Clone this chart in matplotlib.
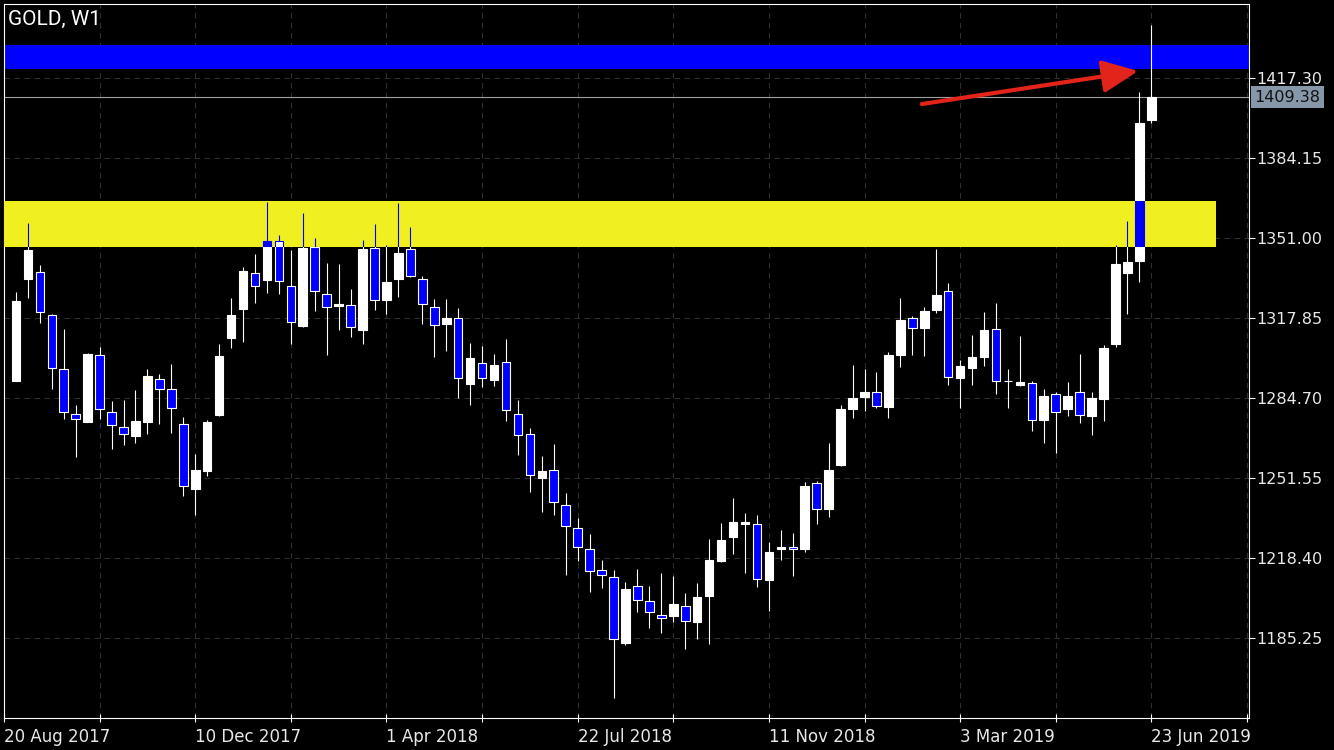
import numpy as np
import pandas as pd
import matplotlib
matplotlib.use("Agg")
import matplotlib.pyplot as plt
from matplotlib.patches import Rectangle

plt.rcParams['font.family'] = ['DejaVu Sans']

# GOLD weekly bars, first bar = week of 27 Aug 2017 (index 1, 20 Aug 2017 = 0)
opens = [1291.9, 1334.1, 1336.8, 1319.0, 1296.6, 1277.9, 1274.9, 1302.5, 1278.9, 1272.7,
         1269.1, 1274.9, 1292.5, 1288.3, 1273.8, 1247.1, 1254.6, 1277.7, 1309.7, 1321.7,
         1336.4, 1333.7, 1349.8, 1331.2, 1314.5, 1347.1, 1327.7, 1323.0, 1323.1, 1313.0,
         1346.7, 1325.4, 1334.1, 1346.3, 1333.9, 1322.3, 1315.2, 1317.7, 1290.6, 1299.1,
         1292.3, 1299.5, 1277.9, 1269.7, 1251.7, 1254.7, 1240.2, 1230.7, 1222.0, 1213.4,
         1210.4, 1183.3, 1206.7, 1200.6, 1194.7, 1194.5, 1198.4, 1192.0, 1202.8, 1217.2,
         1227.2, 1232.6, 1232.4, 1209.4, 1222.0, 1222.8, 1222.3, 1249.4, 1238.7, 1256.9,
         1280.1, 1285.2, 1287.1, 1281.1, 1302.5, 1317.7, 1313.7, 1321.2, 1328.9, 1293.1,
         1297.3, 1301.8, 1313.2, 1291.9, 1290.2, 1290.8, 1275.6, 1286.4, 1280.1, 1287.2,
         1277.2, 1284.4, 1307.1, 1336.6, 1341.6, 1399.9]
highs = [1328.6, 1357.3, 1339.8, 1319.4, 1313.3, 1281.7, 1303.2, 1306.0, 1283.5, 1283.9,
         1288.0, 1296.7, 1294.8, 1298.9, 1276.7, 1261.5, 1275.6, 1307.1, 1326.0, 1339.0,
         1344.4, 1366.0, 1352.2, 1346.0, 1361.4, 1350.9, 1340.8, 1340.1, 1329.9, 1350.2,
         1356.9, 1348.0, 1365.4, 1355.7, 1335.3, 1325.6, 1325.6, 1321.9, 1307.6, 1306.2,
         1302.9, 1309.1, 1283.9, 1272.1, 1260.7, 1265.6, 1245.2, 1235.0, 1228.3, 1217.6,
         1213.4, 1208.6, 1213.8, 1206.9, 1212.3, 1210.9, 1204.0, 1208.2, 1226.3, 1232.8,
         1243.3, 1236.9, 1236.1, 1224.9, 1230.0, 1228.6, 1249.9, 1250.3, 1265.9, 1281.8,
         1298.4, 1296.7, 1295.5, 1303.6, 1326.0, 1318.7, 1322.3, 1346.4, 1332.5, 1300.4,
         1310.8, 1320.5, 1324.2, 1296.6, 1310.4, 1291.7, 1288.4, 1287.2, 1291.2, 1302.9,
         1287.2, 1306.5, 1348.0, 1358.2, 1411.5, 1439.3]
lows = [1291.7, 1326.3, 1315.7, 1288.3, 1276.1, 1260.4, 1274.6, 1276.1, 1263.4, 1265.2,
        1265.9, 1269.9, 1274.1, 1270.2, 1244.1, 1236.3, 1252.5, 1277.2, 1305.5, 1308.0,
        1324.2, 1328.3, 1327.7, 1307.0, 1314.0, 1320.9, 1302.6, 1312.9, 1309.9, 1307.1,
        1321.3, 1319.6, 1326.7, 1334.7, 1315.2, 1301.8, 1304.3, 1284.8, 1281.8, 1289.4,
        1289.8, 1275.3, 1261.2, 1245.9, 1237.6, 1236.3, 1211.5, 1217.2, 1204.4, 1205.8,
        1160.3, 1182.5, 1196.1, 1189.5, 1187.4, 1191.8, 1180.6, 1184.7, 1182.9, 1216.6,
        1219.9, 1212.1, 1206.5, 1196.3, 1217.7, 1211.1, 1220.9, 1232.6, 1235.5, 1256.5,
        1276.5, 1279.4, 1280.7, 1276.5, 1297.7, 1302.5, 1302.1, 1320.0, 1290.1, 1280.7,
        1290.1, 1298.1, 1286.5, 1280.7, 1289.7, 1271.2, 1266.2, 1262.0, 1277.2, 1274.5,
        1269.5, 1275.0, 1306.0, 1319.5, 1332.9, 1398.8]
closes = [1324.9, 1346.0, 1320.2, 1297.0, 1278.8, 1276.1, 1302.9, 1280.3, 1273.6, 1269.7,
          1275.3, 1293.8, 1288.3, 1280.4, 1248.2, 1254.9, 1274.8, 1302.1, 1319.1, 1337.3,
          1331.2, 1349.8, 1333.1, 1316.1, 1347.0, 1328.9, 1322.3, 1323.6, 1314.1, 1346.4,
          1325.2, 1332.8, 1344.8, 1335.4, 1323.5, 1314.8, 1317.7, 1292.9, 1301.2, 1292.9,
          1298.2, 1279.6, 1269.2, 1252.7, 1254.4, 1241.5, 1231.5, 1222.8, 1213.1, 1211.2,
          1184.7, 1205.4, 1200.9, 1195.9, 1193.4, 1199.2, 1192.2, 1202.2, 1217.6, 1225.9,
          1233.3, 1233.2, 1209.6, 1220.9, 1222.8, 1222.0, 1248.2, 1238.6, 1254.9, 1280.1,
          1284.6, 1287.1, 1281.5, 1302.5, 1317.0, 1313.8, 1320.8, 1327.4, 1293.3, 1298.0,
          1301.7, 1312.9, 1291.9, 1291.6, 1291.3, 1275.4, 1285.5, 1279.1, 1285.5, 1277.5,
          1284.7, 1305.4, 1340.2, 1341.1, 1398.5, 1409.38]

start_date = pd.Timestamp('2017-08-20')
yticks = [1185.25, 1218.40, 1251.55, 1284.70, 1317.85, 1351.00, 1384.15, 1417.30]
last_price = 1409.38

# drawn objects
blue_zone = (1421.0, 1431.0)
yellow_zone = (1347.4, 1366.3)
yellow_end = 101.4
arrow_from = (76.8, 1406.5)
arrow_to = (94.9, 1420.2)

o = np.array(opens)
h = np.array(highs)
l = np.array(lows)
c = np.array(closes)
x = np.arange(1, len(c) + 1)
up = c >= o
bot = np.minimum(o, c)
hgt = np.abs(c - o)

fig = plt.figure(figsize=(13.34, 7.5), dpi=100, facecolor='black')
ax = fig.add_axes([4 / 1334, 32 / 750, 1245 / 1334, 714 / 750])
ax.set_facecolor('black')
ax.set_xlim(0.4167, 104.17)
ax.set_ylim(1152.1, 1447.96)


def candles(wick, up_fc, up_ec, dn_fc, dn_ec, z, clip=None):
    wk = ax.vlines(x, l, h, colors=wick, lw=0.8, zorder=z)
    b1 = ax.bar(x[up], hgt[up], 0.72, bot[up], color=up_fc, edgecolor=up_ec,
                lw=0.8, zorder=z + 0.1)
    b2 = ax.bar(x[~up], hgt[~up], 0.72, bot[~up], color=dn_fc, edgecolor=dn_ec,
                lw=0.8, zorder=z + 0.1)
    if clip is not None:
        wk.set_clip_path(clip)
        for p in list(b1) + list(b2):
            p.set_clip_path(clip)


# blue zone behind the bars
ax.axhspan(blue_zone[0], blue_zone[1], color='#0000ff', lw=0, zorder=1)
ax.axhline(last_price, color='#a0a0a0', lw=0.8, zorder=1.5)

candles('white', 'white', 'white', '#0000ff', 'white', 2)

# yellow zone is drawn in xor mode, bars inside it flip colours
band = Rectangle((-5, yellow_zone[0]), yellow_end + 5, yellow_zone[1] - yellow_zone[0],
                 facecolor='#f0f020', edgecolor='none', zorder=4)
ax.add_patch(band)
candles('#0000ff', '#0000ff', '#0000ff', 'white', '#0000ff', 5, clip=band)

ax.annotate('', xy=arrow_to, xytext=arrow_from, zorder=6,
            arrowprops=dict(arrowstyle='-|>,head_length=1.1,head_width=0.5',
                            mutation_scale=20, lw=3, color='#e3241b',
                            shrinkA=0, shrinkB=0))

# grid
ax.set_yticks(yticks)
ax.set_yticklabels([f'{v:.2f}' for v in yticks])
major = np.arange(0, 97, 16)
ax.set_xticks(major)
ax.set_xticklabels([f'{d.day} {d:%b %Y}' for d in
                    [start_date + pd.Timedelta(weeks=int(i)) for i in major]],
                   ha='left')
ax.set_xticks(np.arange(8, 105, 16), minor=True)
ax.grid(which='both', axis='x', color='#2e2e2e', lw=0.8, ls=(0, (5, 4)), zorder=0)
ax.grid(axis='y', color='#2e2e2e', lw=0.8, ls=(0, (5, 4)), zorder=0)
ax.set_axisbelow(True)

ax.yaxis.tick_right()
ax.tick_params(axis='y', colors='white', labelcolor='#e8e8e8', labelsize=11.5,
               length=4, width=0.8, pad=1)
ax.tick_params(axis='x', which='both', colors='white', labelcolor='#e8e8e8',
               labelsize=12, direction='inout', length=6, width=0.8, pad=4)
for s in ax.spines.values():
    s.set_color('white')
    s.set_linewidth(0.8)

ax.annotate(f'{last_price:.2f}', xy=(1, last_price), xycoords=('axes fraction', 'data'),
            xytext=(4, 0), textcoords='offset points', ha='left', va='center',
            fontsize=11.5, color='#111111', annotation_clip=False,
            bbox=dict(boxstyle='square,pad=0.2', fc='#8597a8', ec='none'))

fig.text(8 / 1334, 1 - 19 / 750, 'GOLD, W1', ha='left', va='center',
         color='white', fontsize=15, family='Roboto')

fig.savefig('out.png', dpi=100, facecolor='black')
